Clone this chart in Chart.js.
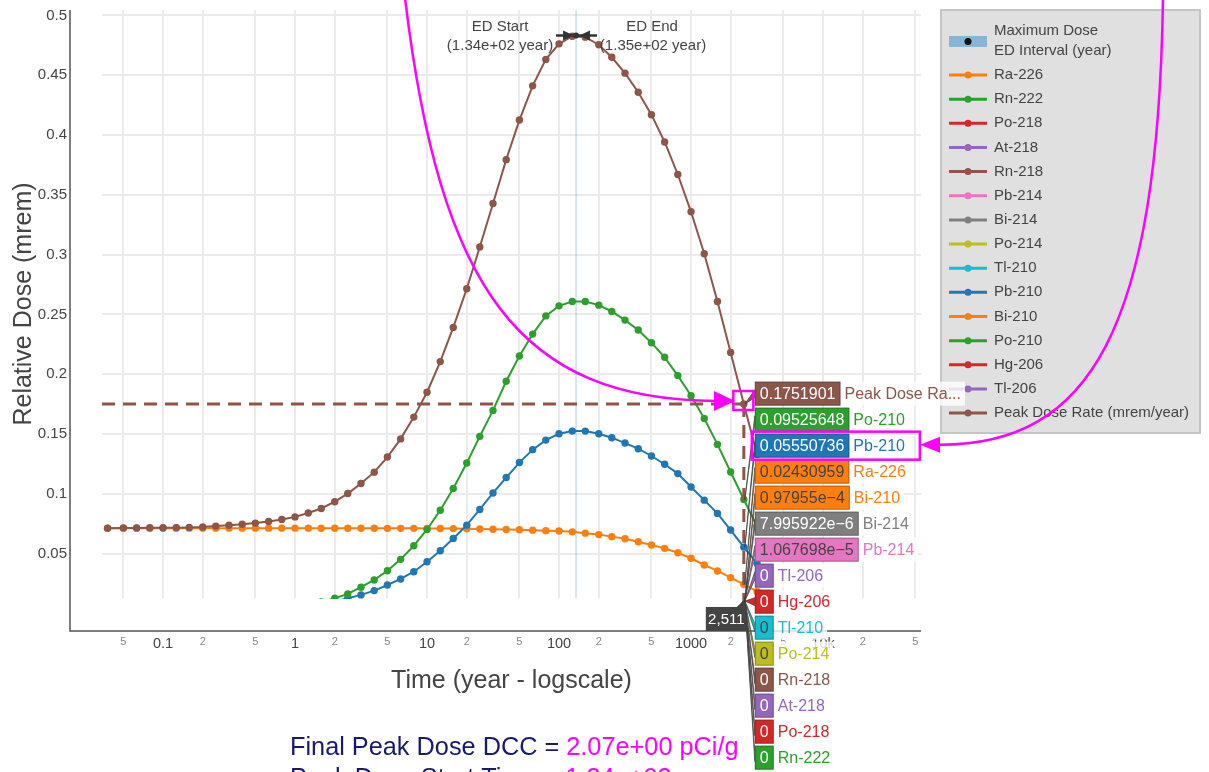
<!DOCTYPE html>
<html><head><meta charset="utf-8">
<script src="https://cdn.jsdelivr.net/npm/chart.js@4.4.1/dist/chart.umd.min.js"></script>
<style>
html,body{margin:0;padding:0;background:#fff;overflow:hidden;}
#c{display:block;}
</style></head>
<body>
<canvas id="c" width="1209" height="772"></canvas>
<script>
// ---------- DATA ----------
const xYears = [0.038,0.0501,0.0631,0.0794,0.1,0.126,0.158,0.2,0.251,0.316,0.398,0.501,0.631,0.794,1,1.26,1.58,2,2.51,3.16,3.98,5.01,6.31,7.94,10,12.6,15.8,20,25.1,31.6,39.8,50.1,63.1,79.4,100,126,158,200,251,316,398,501,631,794,1000,1259,1585,1995,2511,3162];

const peakDoseRate = [0.0714,0.0716,0.0716,0.0717,0.0717,0.0718,0.0720,0.0724,0.0731,0.0738,0.0747,0.0756,0.0770,0.0787,0.0808,0.0840,0.0878,0.0935,0.1003,0.1087,0.1182,0.1308,0.1460,0.1642,0.1850,0.2106,0.2392,0.2715,0.3064,0.3428,0.3794,0.4125,0.4411,0.4632,0.4762,0.4826,0.4818,0.4755,0.4650,0.4517,0.4358,0.4170,0.3942,0.3670,0.3358,0.3008,0.2608,0.2183,0.1752,0.1330];

const po210 = [null,null,null,null,null,null,null,null,null,null,null,null,null,null,null,null,0.0097,0.0128,0.0164,0.0220,0.0281,0.0358,0.0453,0.0567,0.0703,0.0864,0.1045,0.1258,0.1481,0.1698,0.1942,0.2153,0.2336,0.2488,0.2572,0.2608,0.2608,0.2578,0.2525,0.2453,0.2370,0.2264,0.2142,0.1989,0.1820,0.1631,0.1414,0.1183,0.0953,0.0730];

const pb210 = [null,null,null,null,null,null,null,null,null,null,null,null,null,null,null,null,null,0.0100,0.0128,0.0156,0.0192,0.0239,0.0289,0.0350,0.0433,0.0525,0.0628,0.0739,0.0870,0.1008,0.1137,0.1262,0.1370,0.1450,0.1503,0.1525,0.1525,0.1503,0.1470,0.1425,0.1378,0.1317,0.1248,0.1170,0.1058,0.0948,0.0837,0.0698,0.0555,0.0420];

const ra226 = [0.0714,0.0714,0.0714,0.0714,0.0714,0.0714,0.0714,0.0714,0.0714,0.0714,0.0714,0.0714,0.0714,0.0714,0.0714,0.0714,0.0713,0.0713,0.0713,0.0713,0.0713,0.0712,0.0712,0.0712,0.0711,0.0711,0.0710,0.0709,0.0707,0.0705,0.0703,0.0700,0.0697,0.0693,0.0690,0.0683,0.0672,0.0660,0.0643,0.0625,0.0600,0.0573,0.0545,0.0508,0.0462,0.0406,0.0356,0.0300,0.0243,0.0185];

const names = ['Ra-226','Rn-222','Po-218','At-218','Rn-218','Pb-214','Bi-214','Po-214','Tl-210','Pb-210','Bi-210','Po-210','Hg-206','Tl-206','Peak Dose Rate (mrem/year)'];
const colors = ['#ff7f0e','#2ca02c','#d62728','#9467bd','#8c564b','#e377c2','#7f7f7f','#bcbd22','#17becf','#1f77b4','#ff7f0e','#2ca02c','#d62728','#9467bd','#8c564b'];

// values at the hovered time
const hoverX = 2511;
const hoverXLabel = '2,511';
const hoverValues = [0.02430959,0,0,0,0,1.067698e-5,7.995922e-6,0,0,0.05550736,0.97955e-4,0.09525648,0,0,0.1751901];
const hoverTexts = ['0.02430959','0','0','0','0','1.067698e\u22125','7.995922e\u22126','0','0','0.05550736','0.97955e\u22124','0.09525648','0','0','0.1751901'];
const hoverOrder = ['Peak Dose Rate (mrem/year)','Po-210','Pb-210','Ra-226','Bi-210','Bi-214','Pb-214','Tl-206','Hg-206','Tl-210','Po-214','Rn-218','At-218','Po-218','Rn-222'];

// maximum dose / ED interval
const maxDoseX = 134.5;
const maxDoseY = 0.4832;
const edStart = 134;
const edEnd = 135;
const edStartText = ['ED Start','(1.34e+02 year)'];
const edEndText = ['ED End','(1.35e+02 year)'];

// axes
const xTickValues = [0.05,0.1,0.2,0.5,1,2,5,10,20,50,100,200,500,1000,2000,5000,10000,20000,50000];
const xTickLabels = ['5','0.1','2','5','1','2','5','10','2','5','100','2','5','1000','2','5','10k','2','5'];
const xTickMajor = [false,true,false,false,true,false,false,true,false,false,true,false,false,true,false,false,true,false,false];
const yTickValues = [0.05,0.1,0.15,0.2,0.25,0.3,0.35,0.4,0.45,0.5];
const yTickLabels = ['0.05','0.1','0.15','0.2','0.25','0.3','0.35','0.4','0.45','0.5'];

const bottomLines = [
  [['Final Peak Dose DCC = ','#191970'],['2.07e+00 pCi/g','#ff00ff']],
  [['Peak Dose Start Time = ','#191970'],['1.34e+02 year','#ff00ff']]
];

// ---------- CHART ----------
const FONT = "'Liberation Sans', Arial, sans-serif";
Chart.defaults.font.family = FONT;

const seriesData = {'Ra-226': ra226, 'Pb-210': pb210, 'Po-210': po210, 'Peak Dose Rate (mrem/year)': peakDoseRate};

const datasets = names.map((n, i) => ({
  label: n,
  data: seriesData[n] ? seriesData[n] : [{x: hoverX, y: hoverValues[i]}],
  borderColor: colors[i],
  backgroundColor: colors[i],
  pointBackgroundColor: colors[i],
  pointBorderWidth: 0,
  borderWidth: 2,
  pointRadius: 3.7,
  tension: 0,
  spanGaps: false,
  order: names.length - i,
  clip: 1
}));
datasets.push({label: 'Maximum Dose ED Interval (year)', data: [{x: maxDoseX, y: maxDoseY}], pointRadius: 0, borderWidth: 0, showLine: false, order: 0});

function contrast(hex) {
  const r = parseInt(hex.slice(1,3),16), g = parseInt(hex.slice(3,5),16), b = parseInt(hex.slice(5,7),16);
  return (r*299 + g*587 + b*114)/1000 > 128 ? '#444' : '#ffffff';
}

const overlay = {
  id: 'overlay',
  beforeDatasetsDraw(chart) {
    const {ctx, chartArea: a, scales: {x}} = chart;
    const x0 = x.getPixelForValue(edStart), x1 = x.getPixelForValue(edEnd);
    ctx.save();
    ctx.fillStyle = 'rgba(120,170,220,0.45)';
    ctx.fillRect(x0 - 0.4, a.top, Math.max(1.3, x1 - x0 + 0.4), a.bottom - a.top);
    ctx.restore();
  },
  afterDatasetsDraw(chart) {
    const {ctx, chartArea: a, scales: {x, y}} = chart;
    ctx.save();
    // axis lines (offset from plot area)
    ctx.strokeStyle = '#555'; ctx.lineWidth = 1.5;
    ctx.beginPath();
    ctx.moveTo(a.left - 32, a.top); ctx.lineTo(a.left - 32, a.bottom + 33); ctx.lineTo(a.right, a.bottom + 33);
    ctx.stroke();

    // spike lines at hover point
    const pIdx = names.length - 1;
    const px = x.getPixelForValue(hoverX), py = y.getPixelForValue(hoverValues[pIdx]);
    ctx.strokeStyle = colors[pIdx]; ctx.lineWidth = 3; ctx.setLineDash([13, 8]);
    ctx.beginPath(); ctx.moveTo(a.left, py); ctx.lineTo(px, py); ctx.stroke();
    ctx.beginPath(); ctx.moveTo(px, py); ctx.lineTo(px, a.bottom + 6); ctx.stroke();
    ctx.setLineDash([]);

    // maximum dose marker with ED interval bar
    const mx = x.getPixelForValue(maxDoseX), my = y.getPixelForValue(maxDoseY);
    ctx.strokeStyle = '#333'; ctx.fillStyle = '#333'; ctx.lineWidth = 2.5;
    ctx.beginPath(); ctx.moveTo(mx - 20, my); ctx.lineTo(mx + 21, my); ctx.stroke();
    ctx.beginPath(); ctx.moveTo(mx - 13, my - 5); ctx.lineTo(mx - 2, my); ctx.lineTo(mx - 13, my + 5); ctx.closePath(); ctx.fill();
    ctx.beginPath(); ctx.moveTo(mx + 14, my - 5); ctx.lineTo(mx + 3, my); ctx.lineTo(mx + 14, my + 5); ctx.closePath(); ctx.fill();
    ctx.beginPath(); ctx.arc(mx, my, 3, 0, Math.PI*2); ctx.fill();

    // ED annotations
    ctx.font = '15px ' + FONT; ctx.fillStyle = '#444'; ctx.textAlign = 'center'; ctx.textBaseline = 'middle';
    ctx.fillText(edStartText[0], mx - 76, my - 9);
    ctx.fillText(edStartText[1], mx - 76, my + 10);
    ctx.fillText(edEndText[0], mx + 76, my - 9);
    ctx.fillText(edEndText[1], mx + 77, my + 10);
    ctx.restore();
  },
  afterDraw(chart) {
    const {ctx, chartArea: a, scales: {x, y}} = chart;
    ctx.save();
    // ----- legend -----
    const LX = 941, LY = 10, LW = 259, LH = 423;
    ctx.fillStyle = '#e0e0e0'; ctx.fillRect(LX, LY, LW, LH);
    ctx.strokeStyle = '#c4c4c4'; ctx.lineWidth = 2; ctx.strokeRect(LX, LY, LW, LH);
    ctx.font = '15px ' + FONT; ctx.textAlign = 'left'; ctx.textBaseline = 'middle';
    ctx.fillStyle = '#86b5d6'; ctx.fillRect(949, 36, 38, 11);
    ctx.fillStyle = '#111'; ctx.beginPath(); ctx.arc(968, 41.5, 3.5, 0, Math.PI*2); ctx.fill();
    ctx.fillStyle = '#444';
    ctx.fillText('Maximum Dose', 994, 31);
    ctx.fillText('ED Interval (year)', 994, 51);
    names.forEach((n, k) => {
      const yy = 75 + 24.15 * k;
      ctx.strokeStyle = colors[k]; ctx.lineWidth = 3;
      ctx.beginPath(); ctx.moveTo(949, yy); ctx.lineTo(987, yy); ctx.stroke();
      ctx.fillStyle = colors[k]; ctx.beginPath(); ctx.arc(968, yy, 3.5, 0, Math.PI*2); ctx.fill();
      ctx.fillStyle = '#444'; ctx.fillText(n, 994, yy);
    });

    // ----- hover labels -----
    const pIdx = names.length - 1;
    const px = x.getPixelForValue(hoverX), py = y.getPixelForValue(hoverValues[pIdx]);
    const bx = px + 11;
    ctx.font = '16px ' + FONT;
    const rows = hoverOrder.map((n, k) => {
      const i = names.indexOf(n);
      const top = py - 22.3 + 26 * k;
      const dy = Math.min(a.bottom + 3, y.getPixelForValue(hoverValues[i]));
      return {i, n, top, cy: top + 12, dy};
    });
    // pointers
    rows.forEach(r => {
      ctx.fillStyle = colors[r.i]; ctx.strokeStyle = 'rgba(60,60,60,0.85)'; ctx.lineWidth = 0.8;
      ctx.beginPath(); ctx.moveTo(px + 1, r.dy); ctx.lineTo(bx, r.cy - 4); ctx.lineTo(bx, r.cy + 4); ctx.closePath();
      ctx.fill(); ctx.stroke();
    });
    rows.forEach(r => {
      const c = colors[r.i];
      const t = hoverTexts[r.i];
      const tw = ctx.measureText(t).width;
      const bw = tw + 10;
      const nm = r.n.length > 15 ? r.n.slice(0, 12) + '...' : r.n;
      const nw = ctx.measureText(nm).width;
      ctx.fillStyle = 'rgba(255,255,255,0.8)';
      ctx.fillRect(bx + bw, r.top, nw + 8, 24);
      ctx.fillStyle = c; ctx.fillRect(bx, r.top, bw, 24);
      ctx.strokeStyle = 'rgba(40,40,40,0.35)'; ctx.lineWidth = 1; ctx.strokeRect(bx + 0.5, r.top + 0.5, bw - 1, 23);
      ctx.fillStyle = contrast(c); ctx.textAlign = 'left'; ctx.textBaseline = 'middle';
      ctx.fillText(t, bx + 5, r.cy + 0.5);
      ctx.fillStyle = c; ctx.fillText(nm, bx + bw + 4, r.cy + 0.5);
    });

    // x hover label
    ctx.fillStyle = '#444';
    ctx.beginPath(); ctx.moveTo(px - 7, a.bottom + 9); ctx.lineTo(px, a.bottom + 2); ctx.lineTo(px + 3, a.bottom + 9); ctx.closePath(); ctx.fill();
    ctx.fillRect(px - 38, a.bottom + 9, 41, 24);
    ctx.fillStyle = '#fff'; ctx.textAlign = 'center'; ctx.font = '15px ' + FONT;
    ctx.fillText(hoverXLabel, px - 17.5, a.bottom + 21.5);

    // ----- magenta highlights -----
    ctx.strokeStyle = '#ff00ff'; ctx.fillStyle = '#ff00ff'; ctx.lineWidth = 2.5;
    ctx.strokeRect(px - 10.5, py - 13, 20, 19);
    const pbRow = rows.find(r => r.n === 'Pb-210');
    ctx.strokeRect(bx - 3, pbRow.top - 2, 168, 28);
    ctx.lineWidth = 2.5;
    ctx.beginPath(); ctx.moveTo(405, -2); ctx.bezierCurveTo(440, 290, 520, 400, 716, py - 3); ctx.stroke();
    ctx.beginPath(); ctx.moveTo(714, py - 13); ctx.lineTo(px - 9, py - 3); ctx.lineTo(714, py + 7); ctx.closePath(); ctx.fill();
    const ay = pbRow.cy - 1;
    ctx.beginPath(); ctx.moveTo(1163, -2); ctx.bezierCurveTo(1158, 330, 1090, ay, 940, ay); ctx.stroke();
    ctx.beginPath(); ctx.moveTo(940, ay - 8); ctx.lineTo(920, ay); ctx.lineTo(940, ay + 8); ctx.closePath(); ctx.fill();

    // ----- bottom text -----
    ctx.font = '25.3px ' + FONT; ctx.textAlign = 'left'; ctx.textBaseline = 'alphabetic';
    bottomLines.forEach((parts, li) => {
      let sx = 290;
      const by = 755 + li * 31;
      parts.forEach(p => { ctx.fillStyle = p[1]; ctx.fillText(p[0], sx, by); sx += ctx.measureText(p[0]).width; });
    });
    ctx.restore();
  }
};

new Chart(document.getElementById('c'), {
  type: 'line',
  data: {labels: xYears, datasets},
  options: {
    responsive: false,
    animation: false,
    devicePixelRatio: 1,
    events: [],
    layout: {padding: {left: 0, top: 10, right: 288, bottom: 0}},
    plugins: {legend: {display: false}, tooltip: {enabled: false}},
    scales: {
      x: {
        type: 'logarithmic', bounds: 'data', min: 0.0345, max: 55200,
        afterFit(s) { s.height = 174; s.paddingLeft = 0; s.paddingRight = 0; s.paddingTop = 0; s.paddingBottom = 0; },
        afterBuildTicks(s) { s.ticks = xTickValues.map((v, i) => ({value: v, major: xTickMajor[i]})); },
        ticks: {
          autoSkip: false, maxRotation: 0, minRotation: 0, padding: 37,
          callback: (v, i) => xTickLabels[i],
          font: c => ({size: xTickMajor[c.index] ? 14.5 : 11, family: FONT}),
          color: c => xTickMajor[c.index] ? '#444' : '#888'
        },
        grid: {color: '#ebebeb', lineWidth: 2, drawTicks: false},
        border: {display: false},
        title: {display: true, text: 'Time (year - logscale)', color: '#444', font: {size: 25, family: FONT}, padding: {top: 0, bottom: 76}}
      },
      y: {
        type: 'linear', bounds: 'data', min: 0.013, max: 0.5045,
        afterFit(s) { s.width = 102; s.paddingTop = 0; s.paddingBottom = 0; s.paddingLeft = 0; s.paddingRight = 0; },
        afterBuildTicks(s) { s.ticks = yTickValues.map(v => ({value: v})); },
        ticks: {padding: 35, callback: (v, i) => yTickLabels[i], color: '#444', font: {size: 15, family: FONT}},
        grid: {color: '#ebebeb', lineWidth: 2, drawTicks: false},
        border: {display: false},
        title: {display: true, text: 'Relative Dose (mrem)', color: '#444', font: {size: 25, family: FONT}, padding: {top: 9, bottom: 0}}
      }
    }
  },
  plugins: [overlay]
});
</script>
</body></html>
